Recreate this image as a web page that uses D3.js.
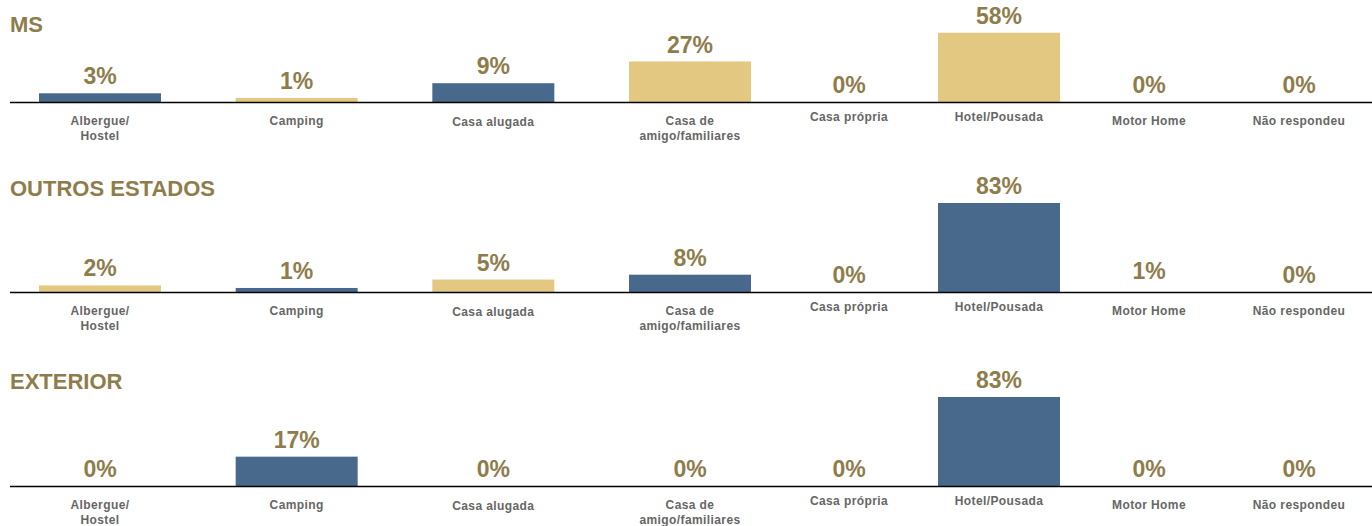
<!DOCTYPE html>
<html><head><meta charset="utf-8">
<script src="https://cdn.jsdelivr.net/npm/d3@7/dist/d3.min.js"></script>
<style>
body{margin:0;background:#fff;}
text{font-family:"Liberation Sans",Arial,sans-serif;font-weight:bold;}
</style></head>
<body><svg id="c" width="1372" height="526"></svg>
<script>
// ---- data ----
const categories = ["Albergue/\nHostel","Camping","Casa alugada","Casa de\namigo/familiares","Casa própria","Hotel/Pousada","Motor Home","Não respondeu"];
const panelTitles = ["MS","OUTROS ESTADOS","EXTERIOR"];
const msValues      = [3, 1, 9, 27, 0, 58, 0, 0];
const outrosValues  = [2, 1, 5, 8, 0, 83, 1, 0];
const exteriorValues= [0, 17, 0, 0, 0, 83, 0, 0];
// ---- styles ----
const BLUE = "#48688c", GOLD = "#e3c881";
const msColors      = [BLUE, GOLD, BLUE, GOLD, GOLD, GOLD, GOLD, GOLD];
const outrosColors  = [GOLD, BLUE, GOLD, BLUE, BLUE, BLUE, "none", BLUE];
const exteriorColors= [BLUE, BLUE, BLUE, BLUE, BLUE, BLUE, BLUE, BLUE];
const labelDy = [23, 23, 24, 23, 19, 19, 23, 23];

const panels = [
  {title: panelTitles[0], values: msValues, colors: msColors, titleY: 24, base: 102},
  {title: panelTitles[1], values: outrosValues, colors: outrosColors, titleY: 188, base: 292},
  {title: panelTitles[2], values: exteriorValues, colors: exteriorColors, titleY: 381, base: 486}
];

const svg = d3.select("#c");
// two groups of categories with different spacing in the reference
const xLeft = d3.scalePoint().domain(categories.slice(0,4)).range([100, 690]);
const xRight = d3.scalePoint().domain(categories.slice(4)).range([849, 1299]);
const xc = c => categories.indexOf(c) < 4 ? xLeft(c) : xRight(c);
const barW = 122;
const h = d3.scalePow().exponent(0.7).domain([0, 83]).range([0, 89]);

panels.forEach(p => {
  const g = svg.append("g");
  g.append("text").attr("x", 10).attr("y", p.titleY).attr("dy", "0.35em")
    .attr("font-size", 22).attr("fill", "#8e7c4b").text(p.title);
  const data = categories.map((c, i) => ({c, v: p.values[i], col: p.colors[i], dy: labelDy[i]}));
  g.selectAll("rect").data(data.filter(d => d.v > 0)).join("rect")
    .attr("x", d => xc(d.c) - barW/2).attr("width", barW)
    .attr("y", d => p.base - h(d.v)).attr("height", d => h(d.v))
    .attr("fill", d => d.col);
  g.append("line").attr("x1", 10).attr("x2", 1372).attr("y1", p.base + 0.5).attr("y2", p.base + 0.5)
    .attr("stroke", "#000").attr("stroke-width", 1.5);
  g.selectAll("text.val").data(data).join("text").attr("class", "val")
    .attr("x", d => xc(d.c)).attr("y", d => p.base - h(d.v) - 17).attr("dy", "0.35em")
    .attr("text-anchor", "middle").attr("font-size", 23).attr("fill", "#8e7c4b")
    .text(d => d3.format(".0f")(d.v) + "%");
  const lab = g.selectAll("text.cat").data(data).join("text").attr("class", "cat")
    .attr("text-anchor", "middle").attr("font-size", 12).attr("fill", "#666")
    .attr("letter-spacing", 0.4)
    .attr("x", d => xc(d.c)).attr("y", d => p.base + d.dy).attr("dy", "0.35em");
  lab.selectAll("tspan").data(d => d.c.split("\n").map(t => ({t, x: xc(d.c)}))).join("tspan")
    .attr("x", t => t.x).attr("dy", (t, i) => i ? 15 : 0).text(t => t.t);
});
</script></body></html>
